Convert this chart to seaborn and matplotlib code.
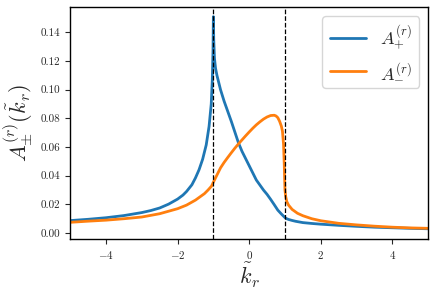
import numpy as np
import pandas as pd
import matplotlib
matplotlib.use("Agg")
import matplotlib.pyplot as plt
import seaborn as sns

# values
x_plus = [-5, -4.5, -4, -3.5, -3, -2.75, -2.5, -2.25, -2, -1.85, -1.75, -1.6, -1.5,
          -1.4, -1.3, -1.2, -1.12, -1.06, -1.03, -1.01, -1.0, -0.99, -0.97, -0.94,
          -0.9, -0.85, -0.8, -0.7, -0.6, -0.5, -0.4, -0.3, -0.2, -0.1, 0, 0.1, 0.2,
          0.3, 0.4, 0.5, 0.6, 0.7, 0.8, 0.9, 1.0, 1.05, 1.1, 1.2, 1.3, 1.5, 1.75,
          2, 2.5, 3, 3.5, 4, 4.5, 5]
a_plus = [0.0087, 0.0096, 0.0107, 0.0122, 0.0143, 0.0157, 0.0175, 0.0202, 0.0237,
          0.0265, 0.0290, 0.0337, 0.0385, 0.0442, 0.0515, 0.0615, 0.0745, 0.0900,
          0.1070, 0.1280, 0.1510, 0.1350, 0.1220, 0.1150, 0.1100, 0.1050, 0.1000,
          0.0920, 0.0850, 0.0780, 0.0705, 0.0630, 0.0570, 0.0520, 0.0470, 0.0420,
          0.0370, 0.0335, 0.0300, 0.0270, 0.0235, 0.0198, 0.0160, 0.0133, 0.0108,
          0.0100, 0.0095, 0.0088, 0.0082, 0.0073, 0.0067, 0.0062, 0.0054, 0.0047,
          0.0041, 0.0037, 0.0033, 0.0030]

x_minus = [-5, -4.5, -4, -3.5, -3, -2.5, -2, -1.75, -1.5, -1.4, -1.25, -1.15, -1.05,
           -1.0, -0.95, -0.9, -0.8, -0.7, -0.6, -0.5, -0.4, -0.3, -0.2, -0.1, 0,
           0.1, 0.2, 0.3, 0.4, 0.5, 0.6, 0.7, 0.75, 0.8, 0.85, 0.9, 0.93, 0.96,
           0.98, 0.99, 1.0, 1.02, 1.05, 1.1, 1.2, 1.35, 1.5, 1.75, 2, 2.5, 3, 3.5,
           4, 4.5, 5]
a_minus = [0.0075, 0.0083, 0.0090, 0.0100, 0.0112, 0.0135, 0.0170, 0.0195, 0.0230,
           0.0248, 0.0275, 0.0300, 0.0328, 0.0355, 0.0380, 0.0405, 0.0455, 0.0493,
           0.0527, 0.0560, 0.0592, 0.0622, 0.0650, 0.0678, 0.0705, 0.0731, 0.0755,
           0.0776, 0.0795, 0.0810, 0.0820, 0.0822, 0.0817, 0.0805, 0.0780, 0.0745,
           0.0710, 0.0620, 0.0480, 0.0380, 0.0300, 0.0255, 0.0220, 0.0195, 0.0165,
           0.0138, 0.0121, 0.0100, 0.0086, 0.0068, 0.0057, 0.0048, 0.0041, 0.0036,
           0.0033]

labels = [r"$A_{+}^{(r)}$", r"$A_{-}^{(r)}$"]
vlines_at = [-1, 1]

df = pd.concat([
    pd.DataFrame({"k": x_plus, "A": a_plus, "series": labels[0]}),
    pd.DataFrame({"k": x_minus, "A": a_minus, "series": labels[1]}),
])

sns.set_style("ticks")
plt.rcParams["font.family"] = "serif"
plt.rcParams["font.serif"] = ["cmr10", "DejaVu Serif"]
plt.rcParams["mathtext.fontset"] = "cm"
plt.rcParams["axes.formatter.use_mathtext"] = True
plt.rcParams["axes.edgecolor"] = "black"

fig, ax = plt.subplots(figsize=(4.36, 2.93), dpi=100)
fig.subplots_adjust(left=0.161, right=0.982, top=0.976, bottom=0.184)

sns.lineplot(data=df, x="k", y="A", hue="series", palette=["#1f77b4", "#ff7f0e"],
             linewidth=2, legend=False, ax=ax)
for v in vlines_at:
    ax.axvline(v, color="black", linestyle="--", linewidth=0.9)

ax.set_xlim(-5, 5)
ax.set_ylim(-0.0042, 0.1577)
ax.set_xticks([-4, -2, 0, 2, 4])
ax.set_yticks([0.00, 0.02, 0.04, 0.06, 0.08, 0.10, 0.12, 0.14])
ax.set_yticklabels(["0.00", "0.02", "0.04", "0.06", "0.08", "0.10", "0.12", "0.14"])
ax.tick_params(labelsize=8, length=3.5, width=0.8)
for s in ax.spines.values():
    s.set_visible(True)
    s.set_linewidth(1.0)

ax.set_xlabel(r"$\tilde{k}_r$", fontsize=16, labelpad=0)
ax.set_ylabel(r"$A_{\pm}^{(r)}(\tilde{k}_r)$", fontsize=16, labelpad=4)
ax.legend(ax.lines[:2], labels, loc="upper right", fontsize=13, handlelength=2.0)

fig.savefig("out.png", dpi=100)
